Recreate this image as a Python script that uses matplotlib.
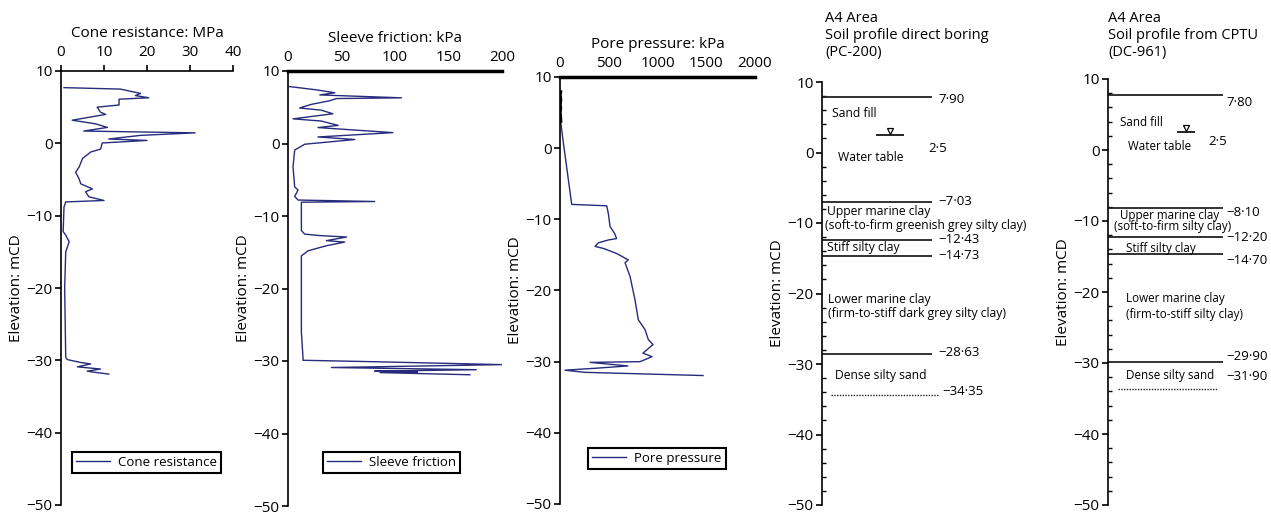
import numpy as np
import matplotlib.pyplot as plt
from matplotlib.ticker import MultipleLocator

plt.rcParams['font.family'] = ['Open Sans', 'DejaVu Sans']
plt.rcParams['font.size'] = 11

NAVY = '#272b7c'

# cone resistance, MPa
cone_elev = [7.7, 7.5, 6.9, 6.6, 6.3, 6.1, 5.3, 5.0, 4.3, 4.0, 3.2, 2.7, 2.2, 1.7, 1.45, 1.1,
             0.6, 0.4, 0.05, -0.8, -1.2, -2.1, -3.3, -4.0, -4.9, -5.6, -6.3, -6.7, -7.4, -7.9,
             -8.1, -8.8, -12.2, -12.7, -13.6, -15.0, -20.0, -29.6, -29.9, -30.3, -30.5, -30.9,
             -31.2, -31.5, -31.7, -31.9]
cone_qc = [0.7, 13.8, 18.5, 17.3, 20.4, 13.5, 13.5, 8.4, 9.2, 10.4, 2.6, 8.0, 10.8, 5.3, 31.2, 18.5,
           11.1, 20.0, 9.6, 9.2, 6.9, 5.0, 4.2, 3.4, 4.2, 4.6, 7.3, 5.7, 6.5, 10.0,
           1.1, 0.7, 0.5, 1.1, 1.9, 1.1, 0.85, 1.1, 1.5, 4.6, 6.9, 3.8,
           9.2, 6.1, 8.4, 11.1]

# sleeve friction, kPa
sleeve_elev = [7.85, 7.4, 7.0, 6.7, 6.3, 6.2, 5.9, 5.4, 4.9, 4.6, 4.1, 3.4, 3.1, 2.5, 2.2, 1.5,
               0.9, 0.55, -0.1, -0.9, -3.2, -6.0, -6.4, -7.3, -7.8, -8.0, -8.1, -12.0, -12.5,
               -12.7, -12.9, -13.4, -13.6, -14.1, -14.8, -15.5, -26.0, -29.7, -29.9, -30.1,
               -30.5, -30.9, -31.2, -31.4, -31.5, -31.6, -31.9]
sleeve_fs = [1.6, 26.6, 43.8, 29.7, 106, 45.3, 39, 21.9, 10.9, 31, 42, 4.7, 31, 46.9, 28, 98,
             28, 62.5, 15.6, 6.25, 4.7, 6.25, 9.4, 6.25, 9.4, 81, 12.5, 12.5, 15.6,
             29.7, 54.7, 35.9, 53, 35.9, 18.8, 12.5, 12.5, 14.1, 14, 81,
             200, 40.6, 176, 81, 121, 86, 170]

# pore pressure, kPa
pore_elev = [7.9, 7.4, 6.8, 6.2, 5.6, 5.0, 4.4, 3.8, 0.8, -7.9, -8.1, -9.2, -11.0, -12.0, -12.7,
             -12.9, -13.3, -13.8, -14.1, -14.8, -15.7, -16.1, -18.0, -21.3, -24.1, -25.5,
             -26.9, -27.6, -28.8, -29.3, -30.0, -30.1, -30.6, -30.9, -31.2,
             -31.5, -31.95]
pore_u = [5, 0, 6, 0, 5, 0, 4, 6, 34, 120, 479, 496, 513, 561, 580,
          496, 393, 359, 448, 581, 700, 667, 718, 769, 803, 872,
          906, 954, 851, 944, 821, 308, 697, 390, 51,
          256, 1467]

# soil profiles
pc_bounds = [7.90, -7.03, -12.43, -14.73, -28.63]
pc_bound_labels = ['7·90', '−7·03', '−12·43', '−14·73', '−28·63']
pc_base = -34.35
pc_base_label = '−34·35'
pc_layers = ['Sand fill', 'Upper marine clay', '(soft-to-firm greenish grey silty clay)',
             'Stiff silty clay', 'Lower marine clay', '(firm-to-stiff dark grey silty clay)',
             'Dense silty sand']

dc_bounds = [7.80, -8.10, -12.20, -14.70, -29.90]
dc_bound_labels = ['7·80', '−8·10', '−12·20', '−14·70', '−29·90']
dc_base = -33.6
dc_base_label = '−31·90'
dc_layers = ['Sand fill', 'Upper marine clay', '(soft-to-firm silty clay)',
             'Stiff silty clay', 'Lower marine clay', '(firm-to-stiff silty clay)',
             'Dense silty sand']
water_level = 2.5

W, H = 1271, 513
fig = plt.figure(figsize=(W / 100, H / 100), dpi=100)


def px_axes(left, right, top, bottom):
    return fig.add_axes([left / W, 1 - bottom / H, (right - left) / W, (bottom - top) / H])


def setup_elev(ax):
    ax.set_ylim(-50, 10)
    ax.yaxis.set_major_locator(MultipleLocator(10))
    ax.set_ylabel('Elevation: mCD', labelpad=2)
    ax.spines['right'].set_visible(False)
    ax.spines['bottom'].set_visible(False)
    ax.spines['left'].set_linewidth(1.2)
    ax.tick_params(axis='y', direction='out', length=4, width=1.2, pad=2)


def cpt_panel(ax, x, y, xmax, step, xlabel, label, top_lw, leg_pos):
    ax.plot(x, y, color=NAVY, lw=1.0, label=label)
    setup_elev(ax)
    ax.set_xlim(0, xmax)
    ax.xaxis.set_major_locator(MultipleLocator(step))
    ax.xaxis.tick_top()
    ax.xaxis.set_label_position('top')
    ax.set_xlabel(xlabel, labelpad=6)
    ax.spines['top'].set_linewidth(top_lw)
    ax.tick_params(axis='x', direction='out', length=4 if top_lw < 2 else 0, width=1.2, pad=4)
    leg = ax.legend(loc='lower left', bbox_to_anchor=leg_pos, borderaxespad=0,
                    fancybox=False, framealpha=1, edgecolor='black', fontsize=9.5,
                    handlelength=2.6, handletextpad=0.6, borderpad=0.3)
    leg.get_frame().set_linewidth(1.5)


ax1 = px_axes(61, 233, 71, 505)
cpt_panel(ax1, cone_qc, cone_elev, 40, 10, 'Cone resistance: MPa', 'Cone resistance', 1.2,
          (0.064, 0.074))

ax2 = px_axes(288, 502, 71, 506)
cpt_panel(ax2, sleeve_fs, sleeve_elev, 200, 50, 'Sleeve friction: kPa', 'Sleeve friction', 2.5,
          (0.164, 0.076))

ax3 = px_axes(560, 755, 77, 504)
cpt_panel(ax3, pore_u, pore_elev, 2000, 500, 'Pore pressure: kPa', 'Pore pressure', 2.5,
          (0.144, 0.082))
# the dense readings near the surface show up as a dark thick stroke
ax3.plot(pore_u[:8], pore_elev[:8], color='black', lw=2.5)


def profile_panel(ax, title, bounds, bound_labels, base, base_label, layers, lay):
    setup_elev(ax)
    ax.spines['top'].set_visible(False)
    ax.set_xticks([])
    ax.set_xlim(0, lay['w'])
    ax.yaxis.set_minor_locator(MultipleLocator(2))
    ax.tick_params(axis='y', which='minor', direction='in', length=3, width=1)
    ax.hlines(bounds, 0, lay['line_end'], color='#222222', lw=1.3)
    for b, t, dy in zip(bounds, bound_labels, lay['label_dy']):
        ax.text(lay['label_x'], b + dy, t, fontsize=9.5, va='center', ha='left')
    ax.hlines(base, lay['dot'][0], lay['dot'][1], color='#222222', lw=1.0, linestyles=(0, (1, 1)))
    ax.text(lay['base_x'], lay['base_y'], base_label, fontsize=9.5, va='center', ha='left')
    # water table
    ax.hlines(water_level, lay['wt'][0], lay['wt'][1], color='black', lw=1.2)
    ax.plot((lay['wt'][0] + lay['wt'][1]) / 2, water_level + 0.55, marker='v', ms=5,
            mfc='white', mec='black', mew=0.9, ls='none')
    ax.text(lay['wt_lab'][0], lay['wt_lab'][1], '2·5', fontsize=9.5, va='center')
    for name, (tx, ty) in zip(layers + ['Water table'], lay['text']):
        ax.text(tx, ty, name, fontsize=lay['fs'], va='center', ha='left')
    fig.text(ax.get_position().x0 + lay['title_dx'] / W, 1 - 11 / H, title, fontsize=10.5,
             va='top', ha='left', linespacing=1.2)


ax4 = px_axes(822, 1045, 82, 505)
profile_panel(ax4, 'A4 Area\nSoil profile direct boring\n(PC-200)', pc_bounds, pc_bound_labels,
              pc_base, pc_base_label, pc_layers,
              dict(w=223, line_end=110, label_x=116, label_dy=[-0.4, 0.1, 0.1, 0.1, 0.2],
                   dot=(9, 116), base_x=120, base_y=-33.9, wt=(54, 82), wt_lab=(106, 0.6),
                   title_dx=3, fs=8.7,
                   text=[(10, 5.6), (5, -8.4), (3, -10.4), (5, -13.5), (6, -20.8),
                         (6, -22.9), (13, -31.7), (16, -0.7)]))

ax5 = px_axes(1108, 1271, 79, 505)
profile_panel(ax5, 'A4 Area\nSoil profile from CPTU\n(DC-961)', dc_bounds, dc_bound_labels,
              dc_base, dc_base_label, dc_layers,
              dict(w=163, line_end=115, label_x=118, label_dy=[-1.1, -0.7, -0.1, -0.8, 0.8],
                   dot=(10, 110), base_x=118, base_y=-31.9, wt=(69, 87), wt_lab=(100, 1.2),
                   title_dx=0, fs=8.4,
                   text=[(12, 3.9), (12, -9.2), (6, -10.8), (18, -13.9), (18, -20.9),
                         (18, -23.2), (18, -31.7), (20, 0.5)]))

fig.savefig('out.png', dpi=100)
